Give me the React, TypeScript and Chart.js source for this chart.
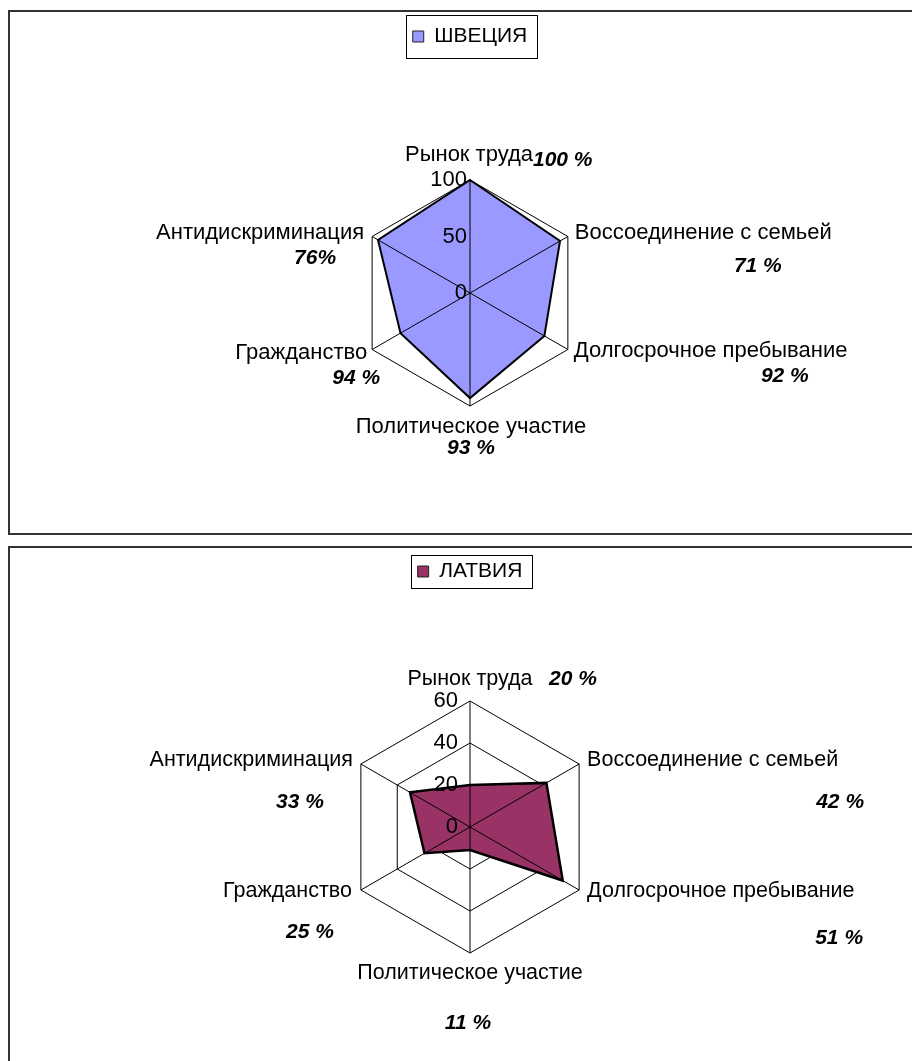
import { useEffect, useRef } from 'react';
import { Chart, registerables } from 'chart.js';

Chart.register(...registerables);

// ---------- data ----------
const categories = [
  'Рынок труда',
  'Воссоединение с семьей',
  'Долгосрочное пребывание',
  'Политическое участие',
  'Гражданство',
  'Антидискриминация',
];
const swedenValues = [100, 92, 76, 93, 71, 94];
const latviaValues = [20, 42, 51, 11, 25, 33];
const swedenPctLabels = ['100 %', '71 %', '92 %', '93 %', '94 %', '76%'];
const latviaPctLabels = ['20 %', '42 %', '51 %', '11 %', '25 %', '33 %'];
const swedenScale = { max: 100, step: 50 };
const latviaScale = { max: 60, step: 20 };

// ---------- layout (label placement relative to the outer vertex) ----------
type Place = { align: CanvasTextAlign; dx: number; dy: number };
const swedenCatPlace: Place[] = [
  { align: 'center', dx: -1, dy: -25 },
  { align: 'left', dx: 7, dy: -4 },
  { align: 'left', dx: 6, dy: 1 },
  { align: 'center', dx: 1, dy: 21 },
  { align: 'right', dx: -5, dy: 3 },
  { align: 'right', dx: -8, dy: -4 },
];
const swedenPctPlace: Place[] = [
  { align: 'left', dx: 63, dy: -20 },
  { align: 'center', dx: 190, dy: 30 },
  { align: 'center', dx: 217, dy: 27 },
  { align: 'center', dx: 1, dy: 42 },
  { align: 'center', dx: -16, dy: 29 },
  { align: 'center', dx: -57, dy: 22 },
];
const latviaCatPlace: Place[] = [
  { align: 'center', dx: 0, dy: -22 },
  { align: 'left', dx: 8, dy: -4 },
  { align: 'left', dx: 8, dy: 1 },
  { align: 'center', dx: 0, dy: 20 },
  { align: 'right', dx: -9, dy: 1 },
  { align: 'right', dx: -8, dy: -4 },
];
const latviaPctPlace: Place[] = [
  { align: 'left', dx: 79, dy: -22 },
  { align: 'center', dx: 261, dy: 38 },
  { align: 'center', dx: 260, dy: 48 },
  { align: 'center', dx: -2, dy: 70 },
  { align: 'center', dx: -51, dy: 42 },
  { align: 'center', dx: -61, dy: 38 },
];

const FONT = '"Liberation Sans", Arial, sans-serif';

const overlayPlugin = {
  id: 'overlay',
  afterDatasetsDraw(chart: any, _args: any, opts: any) {
    const scale = chart.scales.r;
    const ctx = chart.ctx as CanvasRenderingContext2D;
    const n = chart.data.labels.length;
    const R = scale.drawingArea;
    const cx = scale.xCenter;
    const cy = scale.yCenter;
    ctx.save();
    // spokes drawn over the filled area
    ctx.strokeStyle = '#000';
    ctx.lineWidth = 1;
    for (let i = 0; i < n; i++) {
      const p = scale.getPointPosition(i, R);
      ctx.beginPath();
      ctx.moveTo(cx, cy);
      ctx.lineTo(p.x, p.y);
      ctx.stroke();
    }
    // tick labels
    ctx.fillStyle = '#000';
    ctx.font = `22px ${FONT}`;
    ctx.textAlign = 'right';
    ctx.textBaseline = 'middle';
    scale.ticks.forEach((t: any) => {
      const d = scale.getDistanceFromCenterForValue(t.value);
      ctx.fillText(String(t.value), cx - opts.tickGap, cy - d);
    });
    // category labels and percentage annotations
    for (let i = 0; i < n; i++) {
      const p = scale.getPointPosition(i, R);
      const c: Place = opts.catPlace[i];
      ctx.font = `${opts.catSize}px ${FONT}`;
      ctx.textAlign = c.align;
      ctx.fillText(chart.data.labels[i], p.x + c.dx, p.y + c.dy);
      const q: Place = opts.pctPlace[i];
      ctx.font = `italic bold 21px ${FONT}`;
      ctx.textAlign = q.align;
      ctx.fillText(opts.pct[i], p.x + q.dx, p.y + q.dy);
    }
    ctx.restore();
  },
  afterDraw(chart: any, _args: any, opts: any) {
    const boxes = chart.legend && chart.legend.legendHitBoxes;
    if (!boxes || !boxes.length) return;
    const h = boxes[0];
    const ctx = chart.ctx as CanvasRenderingContext2D;
    const pv = opts.legendPadV;
    ctx.save();
    ctx.strokeStyle = '#000';
    ctx.lineWidth = 1;
    ctx.strokeRect(
      Math.round(h.left - 7) + 0.5,
      Math.round(h.top - pv) + 0.5,
      Math.round(h.width + 16),
      Math.round(h.height + 2 * pv)
    );
    ctx.restore();
  },
};

type Cfg = {
  label: string;
  values: number[];
  fill: string;
  lineWidth: number;
  max: number;
  step: number;
  pct: string[];
  catPlace: Place[];
  pctPlace: Place[];
  catSize: number;
  tickGap: number;
  side: number;
  padTop: number;
  padBottom: number;
  legendPadV: number;
  height: number;
  marginTop: number;
};

function RadarBox({ cfg }: { cfg: Cfg }) {
  const ref = useRef<HTMLCanvasElement>(null);
  useEffect(() => {
    const chart = new Chart(ref.current as HTMLCanvasElement, {
      type: 'radar',
      data: {
        labels: categories,
        datasets: [
          {
            label: cfg.label,
            data: cfg.values,
            backgroundColor: cfg.fill,
            borderColor: '#000',
            borderWidth: cfg.lineWidth,
            fill: true,
            pointRadius: 0,
            tension: 0,
          },
        ],
      },
      options: {
        responsive: false,
        animation: false,
        layout: {
          padding: { top: cfg.padTop, bottom: cfg.padBottom, left: cfg.side, right: cfg.side },
        },
        plugins: {
          legend: {
            display: true,
            position: 'top',
            labels: {
              font: { family: FONT, size: 21 },
              color: '#000',
              boxWidth: 11,
              boxHeight: 11,
              padding: 10,
              generateLabels: (c: any) =>
                c.data.datasets.map((ds: any, i: number) => ({
                  text: ds.label,
                  fillStyle: ds.backgroundColor,
                  strokeStyle: '#222',
                  lineWidth: 1,
                  hidden: false,
                  datasetIndex: i,
                  fontColor: '#000',
                })),
            },
          },
          tooltip: { enabled: false },
          overlay: {
            tickGap: cfg.tickGap,
            catPlace: cfg.catPlace,
            pctPlace: cfg.pctPlace,
            catSize: cfg.catSize,
            pct: cfg.pct,
            legendPadV: cfg.legendPadV,
          },
        } as any,
        scales: {
          r: {
            min: 0,
            max: cfg.max,
            ticks: { stepSize: cfg.step, display: false },
            grid: { color: '#000', lineWidth: 1, circular: false },
            angleLines: { display: false },
            pointLabels: { display: false },
          },
        },
      },
      plugins: [overlayPlugin as any],
    });
    return () => chart.destroy();
  }, []);
  return (
    <div
      style={{
        width: 920,
        border: '2px solid #333',
        marginTop: cfg.marginTop,
        background: '#fff',
      }}
    >
      <canvas
        ref={ref}
        width={920}
        height={cfg.height}
        style={{ display: 'block', width: 920, height: cfg.height }}
      />
    </div>
  );
}

const sweden: Cfg = {
  label: 'ШВЕЦИЯ',
  values: swedenValues,
  fill: '#9999FF',
  lineWidth: 2,
  max: swedenScale.max,
  step: swedenScale.step,
  pct: swedenPctLabels,
  catPlace: swedenCatPlace,
  pctPlace: swedenPctPlace,
  catSize: 22,
  tickGap: 3,
  side: 347,
  padTop: 4,
  padBottom: 3,
  legendPadV: 11,
  height: 521,
  marginTop: 0,
};

const latvia: Cfg = {
  label: 'ЛАТВИЯ',
  values: latviaValues,
  fill: '#993366',
  lineWidth: 2.5,
  max: latviaScale.max,
  step: latviaScale.step,
  pct: latviaPctLabels,
  catPlace: latviaCatPlace,
  pctPlace: latviaPctPlace,
  catSize: 21.5,
  tickGap: 12,
  side: 334,
  padTop: 3,
  padBottom: 5,
  legendPadV: 6,
  height: 520,
  marginTop: 11,
};

export default function App() {
  useEffect(() => {
    document.documentElement.style.overflow = 'hidden';
  }, []);
  return (
    <div style={{ width: 1000, paddingTop: 2, fontFamily: FONT }}>
      <RadarBox cfg={sweden} />
      <RadarBox cfg={latvia} />
    </div>
  );
}
